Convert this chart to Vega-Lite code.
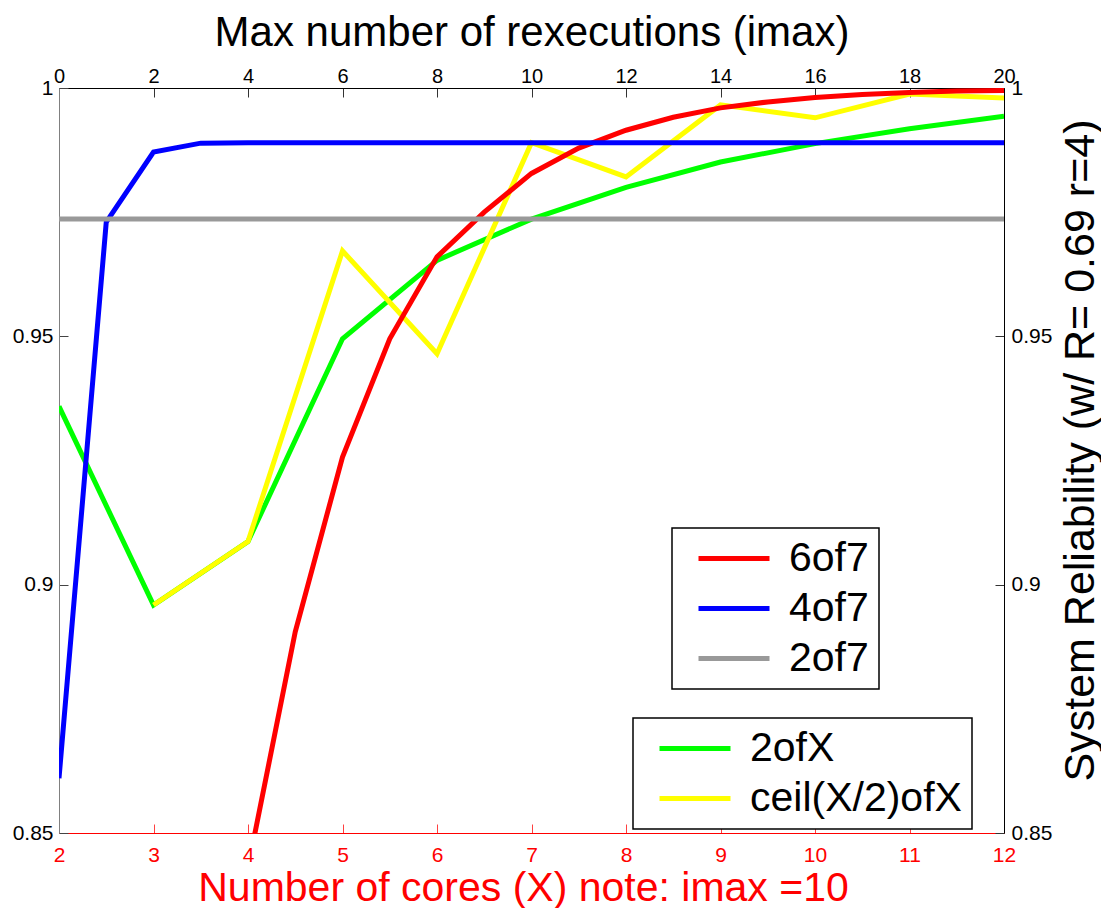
{
  "$schema": "https://vega.github.io/schema/vega-lite/v6.json",
  "autosize": {"type": "none"},
  "padding": {"left": 59, "top": 88, "right": 97, "bottom": 75},
  "width": 945,
  "height": 745,
  "background": "white",
  "config": {
    "font": "Liberation Sans",
    "view": {"stroke": null},
    "axis": {"grid": false, "labelFlush": false, "labelOverlap": false, "titleFontWeight": "normal", "tickWidth": 1, "domainWidth": 1},
    "legend": {"strokeWidth": 1.5}
  },
  "datasets": {
    "imax": [
      {"imax": 4, "R": 0.843, "series": "6of7"},
      {"imax": 5, "R": 0.8905, "series": "6of7"},
      {"imax": 6, "R": 0.9257, "series": "6of7"},
      {"imax": 7, "R": 0.9495, "series": "6of7"},
      {"imax": 8, "R": 0.966, "series": "6of7"},
      {"imax": 9, "R": 0.975, "series": "6of7"},
      {"imax": 10, "R": 0.9828, "series": "6of7"},
      {"imax": 11, "R": 0.9879, "series": "6of7"},
      {"imax": 12, "R": 0.9915, "series": "6of7"},
      {"imax": 13, "R": 0.9941, "series": "6of7"},
      {"imax": 14, "R": 0.996, "series": "6of7"},
      {"imax": 15, "R": 0.9972, "series": "6of7"},
      {"imax": 16, "R": 0.9981, "series": "6of7"},
      {"imax": 17, "R": 0.9987, "series": "6of7"},
      {"imax": 18, "R": 0.9991, "series": "6of7"},
      {"imax": 19, "R": 0.9994, "series": "6of7"},
      {"imax": 20, "R": 0.9995, "series": "6of7"},
      {"imax": 0, "R": 0.861, "series": "4of7"},
      {"imax": 1, "R": 0.973, "series": "4of7"},
      {"imax": 2, "R": 0.9871, "series": "4of7"},
      {"imax": 3, "R": 0.9889, "series": "4of7"},
      {"imax": 4, "R": 0.989, "series": "4of7"},
      {"imax": 5, "R": 0.989, "series": "4of7"},
      {"imax": 6, "R": 0.989, "series": "4of7"},
      {"imax": 7, "R": 0.989, "series": "4of7"},
      {"imax": 8, "R": 0.989, "series": "4of7"},
      {"imax": 9, "R": 0.989, "series": "4of7"},
      {"imax": 10, "R": 0.989, "series": "4of7"},
      {"imax": 11, "R": 0.989, "series": "4of7"},
      {"imax": 12, "R": 0.989, "series": "4of7"},
      {"imax": 13, "R": 0.989, "series": "4of7"},
      {"imax": 14, "R": 0.989, "series": "4of7"},
      {"imax": 15, "R": 0.989, "series": "4of7"},
      {"imax": 16, "R": 0.989, "series": "4of7"},
      {"imax": 17, "R": 0.989, "series": "4of7"},
      {"imax": 18, "R": 0.989, "series": "4of7"},
      {"imax": 19, "R": 0.989, "series": "4of7"},
      {"imax": 20, "R": 0.989, "series": "4of7"},
      {"imax": 0, "R": 0.9736, "series": "2of7"},
      {"imax": 2, "R": 0.9736, "series": "2of7"},
      {"imax": 4, "R": 0.9736, "series": "2of7"},
      {"imax": 6, "R": 0.9736, "series": "2of7"},
      {"imax": 8, "R": 0.9736, "series": "2of7"},
      {"imax": 10, "R": 0.9736, "series": "2of7"},
      {"imax": 12, "R": 0.9736, "series": "2of7"},
      {"imax": 14, "R": 0.9736, "series": "2of7"},
      {"imax": 16, "R": 0.9736, "series": "2of7"},
      {"imax": 18, "R": 0.9736, "series": "2of7"},
      {"imax": 20, "R": 0.9736, "series": "2of7"}
    ],
    "cores": [
      {"X": 2, "R": 0.9359, "series": "2ofX"},
      {"X": 3, "R": 0.8959, "series": "2ofX"},
      {"X": 4, "R": 0.9087, "series": "2ofX"},
      {"X": 5, "R": 0.9495, "series": "2ofX"},
      {"X": 6, "R": 0.9653, "series": "2ofX"},
      {"X": 7, "R": 0.9736, "series": "2ofX"},
      {"X": 8, "R": 0.98, "series": "2ofX"},
      {"X": 9, "R": 0.9851, "series": "2ofX"},
      {"X": 10, "R": 0.9888, "series": "2ofX"},
      {"X": 11, "R": 0.9918, "series": "2ofX"},
      {"X": 12, "R": 0.9943, "series": "2ofX"},
      {"X": 3, "R": 0.8959, "series": "ceil(X/2)ofX"},
      {"X": 4, "R": 0.9087, "series": "ceil(X/2)ofX"},
      {"X": 5, "R": 0.9672, "series": "ceil(X/2)ofX"},
      {"X": 6, "R": 0.9465, "series": "ceil(X/2)ofX"},
      {"X": 7, "R": 0.989, "series": "ceil(X/2)ofX"},
      {"X": 8, "R": 0.9821, "series": "ceil(X/2)ofX"},
      {"X": 9, "R": 0.9966, "series": "ceil(X/2)ofX"},
      {"X": 10, "R": 0.994, "series": "ceil(X/2)ofX"},
      {"X": 11, "R": 0.9988, "series": "ceil(X/2)ofX"},
      {"X": 12, "R": 0.998, "series": "ceil(X/2)ofX"}
    ]
  },
  "layer": [
    {
      "data": {"name": "cores"},
      "mark": {"type": "line", "strokeWidth": 5, "clip": true},
      "encoding": {
        "x": {
          "field": "X", "type": "quantitative",
          "scale": {"domain": [2, 12], "nice": false, "zero": false},
          "axis": {
            "orient": "bottom", "values": [2, 3, 4, 5, 6, 7, 8, 9, 10, 11, 12],
            "tickSize": -9, "labelPadding": 20, "labelFontSize": 21,
            "labelColor": "#ff0000", "domainColor": "#ff0000", "tickColor": "#ff4040",
            "title": "Number of cores (X) note: imax =10", "titleColor": "#ff0000",
            "titleFontSize": 41, "titleBaseline": "alphabetic", "titleY": 67, "titleX": 464
          }
        },
        "y": {
          "field": "R", "type": "quantitative",
          "scale": {"domain": [0.85, 1], "nice": false, "zero": false},
          "axis": {
            "orient": "right", "values": [0.85, 0.9, 0.95, 1], "format": "~g",
            "tickSize": -9, "labelPadding": 16, "labelFontSize": 21, "labelColor": "black",
            "domainColor": "black", "tickColor": "#333333",
            "title": "System Reliability (w/ R= 0.69 r=4)", "titleFontSize": 43, "titleColor": "black",
            "titleAngle": 270, "titleBaseline": "alphabetic", "titleAlign": "center",
            "titleX": 89, "titleY": 362
          }
        },
        "color": {
          "field": "series", "type": "nominal",
          "scale": {"domain": ["2ofX", "ceil(X/2)ofX"], "range": ["#00ff00", "#ffff00"]},
          "legend": {
            "title": null, "orient": "none", "legendX": 574, "legendY": 630,
            "symbolType": "stroke", "symbolSize": 5041, "symbolStrokeWidth": 5,
            "labelFontSize": 41, "labelColor": "black", "labelExpr": "datum.label + '\u00a0\u00a0'", "labelLimit": 500,
            "clipHeight": 41, "rowPadding": 8, "padding": 10, "symbolOffset": 14, "labelOffset": 17,
            "strokeColor": "black", "fillColor": "white"
          }
        }
      }
    },
    {
      "data": {"name": "imax"},
      "mark": {"type": "line", "strokeWidth": 5, "clip": true},
      "encoding": {
        "x": {
          "field": "imax", "type": "quantitative",
          "scale": {"domain": [0, 20], "nice": false, "zero": false},
          "axis": {
            "orient": "top", "values": [0, 2, 4, 6, 8, 10, 12, 14, 16, 18, 20],
            "tickSize": -9, "labelPadding": 11, "labelFontSize": 20, "labelColor": "black",
            "domainColor": "black", "tickColor": "#333333",
            "title": "Max number of rexecutions (imax)", "titleColor": "black",
            "titleFontSize": 42, "titleBaseline": "alphabetic", "titleY": -43
          }
        },
        "y": {
          "field": "R", "type": "quantitative",
          "scale": {"domain": [0.85, 1], "nice": false, "zero": false},
          "axis": {
            "orient": "left", "values": [0.85, 0.9, 0.95, 1], "format": "~g",
            "tickSize": -9, "labelPadding": 15, "labelFontSize": 21, "labelColor": "black",
            "domainColor": "#808080", "tickColor": "#444444", "title": null
          }
        },
        "color": {
          "field": "series", "type": "nominal",
          "scale": {"domain": ["6of7", "4of7", "2of7"], "range": ["#ff0000", "#0000ff", "#999999"]},
          "legend": {
            "title": null, "orient": "none", "legendX": 613, "legendY": 440,
            "symbolType": "stroke", "symbolSize": 5041, "symbolStrokeWidth": 5,
            "labelFontSize": 41, "labelColor": "black", "labelExpr": "datum.label + '\u00a0\u00a0'", "labelLimit": 500,
            "clipHeight": 41, "rowPadding": 8, "padding": 10, "symbolOffset": 14, "labelOffset": 17,
            "strokeColor": "black", "fillColor": "white"
          }
        }
      }
    }
  ],
  "resolve": {
    "scale": {"x": "independent", "y": "independent", "color": "independent"},
    "axis": {"x": "independent", "y": "independent"},
    "legend": {"color": "independent"}
  }
}
